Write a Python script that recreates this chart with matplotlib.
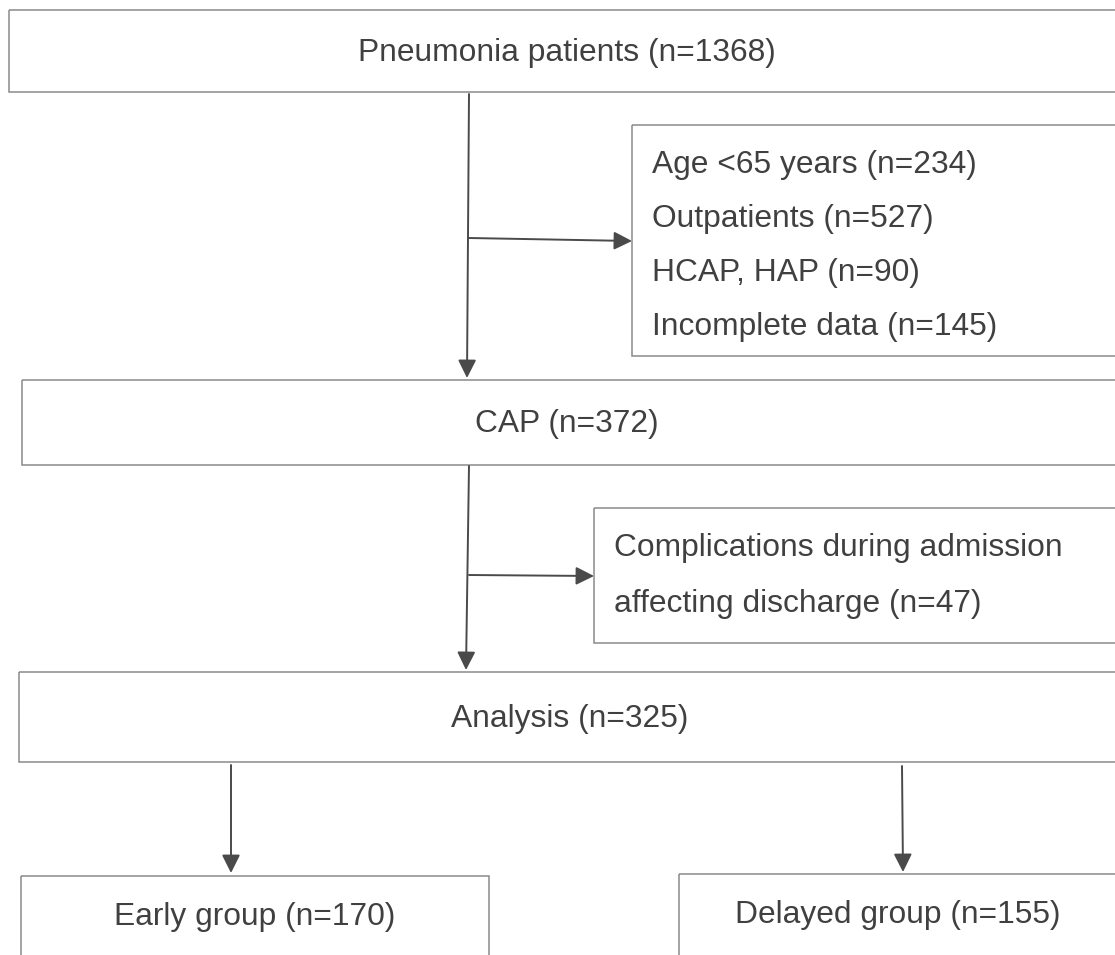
import matplotlib.pyplot as plt
from matplotlib.patches import Rectangle, FancyArrowPatch

plt.rcParams['font.family'] = ['Liberation Sans', 'DejaVu Sans']

# flow chart content
stages = ["Pneumonia patients", "CAP", "Analysis"]
stage_n = [1368, 372, 325]
excl1_reasons = ["Age <65 years", "Outpatients", "HCAP, HAP", "Incomplete data"]
excl1_n = [234, 527, 90, 145]
excl2_reasons = ["Complications during admission\naffecting discharge"]
excl2_n = [47]
groups = ["Early group", "Delayed group"]
group_n = [170, 155]

W, H = 1115, 955
fig = plt.figure(figsize=(W / 100, H / 100), dpi=100)
ax = fig.add_axes([0, 0, 1, 1])
ax.set_xlim(0, W)
ax.set_ylim(H, 0)
ax.axis('off')

txt_col = '#404040'
edge_col = '#8a8a8a'
arr_col = '#4a4a4a'
fs = 22.9
dy = 2.5  # small nudge, matplotlib centres on the full glyph box


def box(x0, y0, x1, y1):
    ax.add_patch(Rectangle((x0, y0), x1 - x0, y1 - y0, fill=False,
                           edgecolor=edge_col, lw=1.1))


def arrow(p0, p1):
    ax.add_patch(FancyArrowPatch(p0, p1, arrowstyle='-|>,head_length=1.1,head_width=0.55',
                                 mutation_scale=10, color=arr_col, lw=1.4,
                                 shrinkA=0, shrinkB=0))


# main stages
main_boxes = [(9, 10, 1125, 92), (22, 380, 1125, 465), (19, 672, 1125, 762)]
main_text = [(567, 50), (567, 421), (570, 716)]
for (x0, y0, x1, y1), (tx, ty), name, n in zip(main_boxes, main_text, stages, stage_n):
    box(x0, y0, x1, y1)
    ax.text(tx, ty + dy, f"{name} (n={n})", ha='center', va='center', fontsize=fs, color=txt_col)

# exclusion 1
box(632, 125, 1125, 356)
for i, (r, n) in enumerate(zip(excl1_reasons, excl1_n)):
    ax.text(652, 163 + dy + i * 53.7, f"{r} (n={n})", ha='left', va='center',
            fontsize=fs, color=txt_col)

# exclusion 2
box(594, 508, 1125, 643)
lines = f"{excl2_reasons[0]} (n={excl2_n[0]})".split("\n")
for i, ln in enumerate(lines):
    ax.text(614, 545 + dy + i * 56, ln, ha='left', va='center', fontsize=fs, color=txt_col)

# groups
group_boxes = [(21, 876, 489, 970), (679, 874, 1125, 970)]
group_text = [(255, 914), (898, 912)]
for (x0, y0, x1, y1), (tx, ty), name, n in zip(group_boxes, group_text, groups, group_n):
    box(x0, y0, x1, y1)
    ax.text(tx, ty + dy, f"{name} (n={n})", ha='center', va='center', fontsize=fs, color=txt_col)

# connectors
arrow((469, 94), (467, 378))
arrow((469, 238), (632, 241))
arrow((469, 466), (466, 670))
arrow((469, 575), (594, 576))
arrow((231, 765), (231, 873))
arrow((902, 766), (903, 872))

fig.savefig('out.png', dpi=100)
